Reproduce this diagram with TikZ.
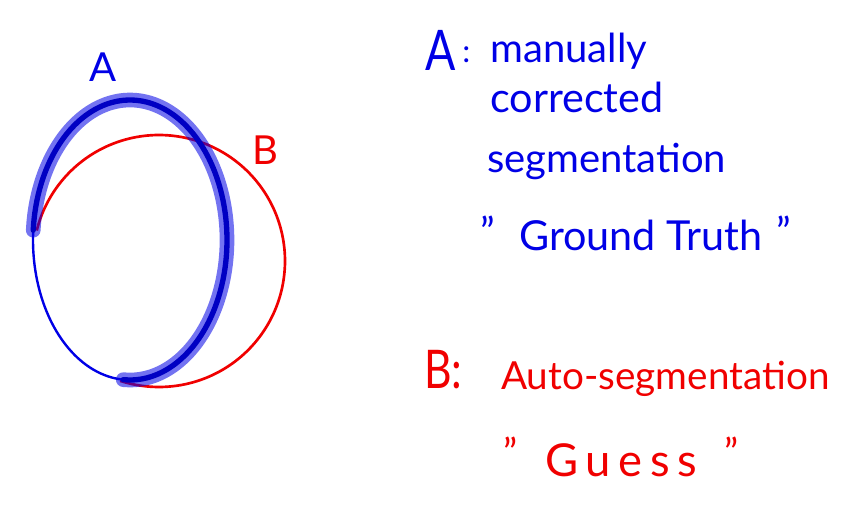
\documentclass[tikz,border=0pt]{standalone}
\usepackage{fontspec}
\setmainfont{Lato}
\definecolor{pblue}{RGB}{0,0,230}
\definecolor{pred}{RGB}{240,0,0}
\tikzset{
  bluetext/.style={text=pblue, inner sep=0pt, anchor=base west, font=\fontsize{30}{34}\selectfont},
  redtext/.style={text=pred, inner sep=0pt, anchor=base west, font=\fontsize{29}{34}\selectfont},
  redline/.style={draw=pred, line width=2pt},
  thinblue/.style={draw=pblue, line width=1.8pt},
  halo/.style={draw=pblue, line width=11pt, opacity=0.55, line cap=round},
  core/.style={draw=pblue!85!black, line width=4pt, line cap=round},
}
\begin{document}
\begin{tikzpicture}[x=0.75pt,y=-0.75pt]
\useasboundingbox (0,0) rectangle (867,517);
% red circle B (its lower-left part lies under A)
\draw[redline] plot[domain=-108:166,samples=90,smooth] ({159+126*cos(\x)},{261-126*sin(\x)});
% thin blue part of A
\draw[thinblue] plot[domain=176:266,samples=40,smooth] ({130+97*cos(\x)},{240-140*sin(\x)});
% thick blue part of A
\draw[halo] plot[domain=-94:176,samples=80,smooth] ({130+97*cos(\x)},{240-140*sin(\x)});
\draw[core] plot[domain=-94:176,samples=80,smooth] ({130+97*cos(\x)},{240-140*sin(\x)});
% labels at the figure
\node[text=pblue, font=\fontsize{30}{34}\selectfont] (la) at (103,67) {A};
\node[text=pred, font=\fontsize{30}{34}\selectfont] (lb) at (265,150) {B};
% legend A
\node[text=pblue, inner sep=0pt, anchor=base west, font=\fontsize{42}{46}\selectfont, xscale=0.8] (ta) at (425,70) {A};
\node[text=pblue, inner sep=0pt, anchor=base west, font=\fontsize{24}{28}\selectfont] (tac) at (462,63) {:};
\node[bluetext] (t1) at (490,63) {manually};
\node[bluetext, font=\fontsize{31}{34}\selectfont] (t2) at (490,113) {corrected};
\node[bluetext] (t3) at (487,172) {segmentation};
\node[bluetext] (q1) at (480,246) {"};
\node[bluetext, font=\fontsize{31}{34}\selectfont] (t4) at (519,250) {Ground Truth};
\node[bluetext] (q2) at (776,246) {"};
% legend B
\node[text=pred, inner sep=0pt, anchor=base west, font=\fontsize{40}{46}\selectfont, xscale=0.8] (tb) at (424,388) {B:};
\node[redtext] (t5) at (501,389) {Auto-segmentation};
\node[redtext] (q3) at (503,466) {"};
\node[redtext, font=\fontsize{34}{40}\selectfont] (t6) at (545,476) {G\,u\,e\,s\,s};
\node[redtext] (q4) at (724,466) {"};
\end{tikzpicture}
\end{document}
